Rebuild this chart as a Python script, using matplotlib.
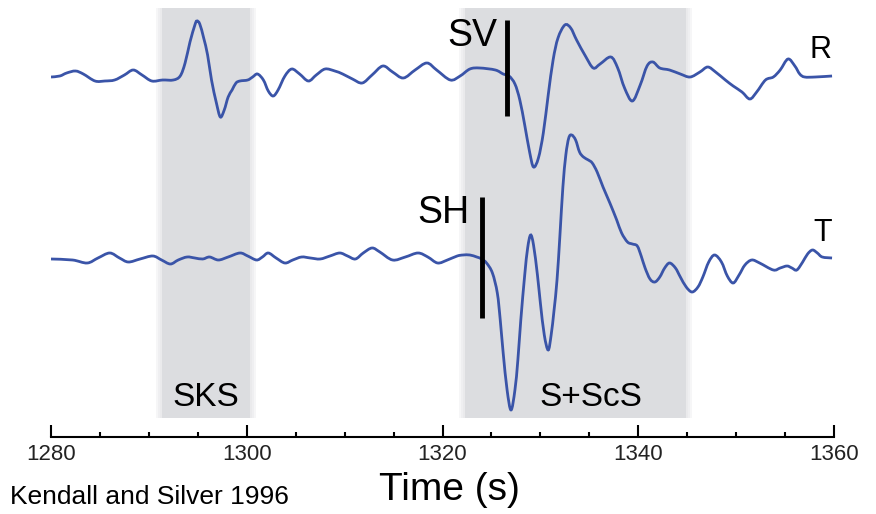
import matplotlib
matplotlib.use("Agg")
import matplotlib.pyplot as plt
from matplotlib.path import Path
from matplotlib.patches import PathPatch
from matplotlib.ticker import MultipleLocator

plt.rcParams['font.family'] = ['Liberation Sans', 'DejaVu Sans']

# radial (R) component: time (s), amplitude
r_time = [1280.0, 1280.9, 1281.6, 1282.5, 1283.3, 1284.5, 1285.5, 1286.5, 1287.5, 1288.4,
          1289.3, 1290.3, 1291.4, 1292.5, 1293.2, 1293.7, 1294.2, 1294.7, 1294.9, 1295.2,
          1295.6, 1296.0, 1296.4, 1296.9, 1297.3, 1297.7, 1298.1, 1298.5, 1298.9, 1299.3,
          1300.1, 1300.6, 1301.1, 1301.7, 1302.2, 1302.7, 1303.2, 1303.9, 1304.6, 1305.4,
          1306.3, 1307.1, 1308.0, 1309.0, 1309.8, 1310.8, 1311.8, 1312.8, 1313.9, 1314.9,
          1316.0, 1317.2, 1318.4, 1319.4, 1320.8, 1321.8, 1322.8, 1323.8, 1325.4, 1326.2,
          1326.8, 1327.4, 1327.9, 1328.4, 1328.9, 1329.3, 1329.8, 1330.3, 1330.8, 1331.3,
          1331.8, 1332.5, 1333.1, 1333.7, 1334.6, 1335.4, 1336.1, 1337.2, 1337.9, 1338.6,
          1339.4, 1340.2, 1340.9, 1341.5, 1342.2, 1343.2, 1344.3, 1345.3, 1346.3, 1347.1,
          1347.9, 1348.9, 1349.7, 1350.6, 1351.4, 1352.1, 1353.0, 1353.8, 1354.5, 1355.3,
          1356.0, 1356.5, 1357.0, 1358.1, 1359.8]
r_amp = [-0.1, 0.0, 0.3, 0.5, 0.2, -0.5, -0.5, -0.4, 0.1, 0.6,
         0.1, -0.5, -0.4, -0.4, 0.0, 1.3, 3.4, 5.1, 5.5, 5.2,
         3.8, 2.1, -0.4, -2.7, -4.1, -3.4, -2.1, -1.4, -0.7, -0.5,
         -0.4, -0.1, 0.2, -0.4, -1.5, -2.0, -1.4, 0.0, 0.7, 0.2,
         -0.5, 0.1, 0.7, 0.5, 0.2, -0.3, -0.7, 0.1, 1.0, 0.4,
         -0.2, 0.6, 1.3, 0.6, -0.4, 0.0, 0.7, 0.8, 0.6, 0.2,
         0.0, -0.8, -2.4, -4.9, -7.6, -9.1, -8.2, -5.7, -1.9, 1.6,
         3.8, 5.1, 4.8, 3.6, 2.0, 0.8, 1.2, 1.9, 0.8, -1.2,
         -2.5, -0.9, 1.0, 1.4, 0.8, 0.6, 0.2, -0.1, 0.4, 0.9,
         0.4, -0.4, -1.0, -1.6, -2.3, -1.6, -0.4, -0.1, 0.6, 1.7,
         1.0, 0.2, -0.1, -0.1, 0.0]

# transverse (T) component
t_time = [1280.0, 1282.2, 1283.7, 1284.8, 1286.0, 1287.0, 1287.9, 1289.1, 1290.4, 1291.3,
          1292.2, 1293.0, 1293.9, 1294.7, 1295.5, 1296.2, 1297.1, 1298.1, 1299.3, 1300.1,
          1301.0, 1301.6, 1302.2, 1303.0, 1303.9, 1304.7, 1305.6, 1306.5, 1307.5, 1308.5,
          1309.5, 1310.3, 1311.1, 1311.9, 1312.8, 1313.6, 1314.9, 1316.2, 1317.5, 1318.5,
          1319.5, 1320.5, 1321.5, 1322.1, 1322.8, 1323.5, 1324.0, 1324.5, 1325.1, 1325.6,
          1325.9, 1326.2, 1326.6, 1327.0, 1327.4, 1327.7, 1328.0, 1328.4, 1328.7, 1329.0,
          1329.3, 1329.7, 1330.0, 1330.4, 1330.8, 1331.1, 1331.4, 1331.7, 1332.0, 1332.3,
          1332.6, 1332.9, 1333.2, 1333.6, 1334.0, 1334.4, 1334.9, 1335.3, 1335.8, 1336.4,
          1337.1, 1337.8, 1338.3, 1338.9, 1339.4, 1339.9, 1340.3, 1340.7, 1341.2, 1341.7,
          1342.2, 1342.7, 1343.2, 1343.8, 1344.3, 1344.9, 1345.5, 1346.1, 1346.6, 1347.2,
          1347.8, 1348.5, 1349.1, 1349.7, 1350.3, 1350.9, 1351.6, 1352.4, 1353.8, 1354.5,
          1355.2, 1355.7, 1356.2, 1356.8, 1357.3, 1357.8, 1358.3, 1358.8, 1359.8]
t_amp = [0.0, -0.1, -0.4, 0.1, 0.6, 0.1, -0.3, 0.0, 0.3, -0.1,
         -0.5, -0.1, 0.2, 0.1, 0.0, 0.2, -0.1, 0.2, 0.6, 0.3,
         -0.1, 0.2, 0.6, 0.1, -0.4, -0.1, 0.2, 0.1, 0.0, 0.3,
         0.6, 0.3, 0.0, 0.6, 1.1, 0.7, -0.1, 0.2, 0.6, 0.2,
         -0.4, -0.1, 0.3, 0.4, 0.4, 0.2, 0.0, -0.4, -1.4, -3.4,
         -6.1, -9.4, -13.1, -15.1, -13.1, -10.1, -6.1, -1.6, 1.1, 2.4,
         1.4, -1.6, -4.4, -7.6, -9.1, -7.6, -5.1, -2.1, 2.4, 7.2,
         10.4, 12.1, 12.4, 11.9, 10.7, 10.2, 9.9, 9.6, 8.7, 7.2,
         5.6, 3.9, 2.6, 1.7, 1.5, 1.3, 0.3, -0.9, -2.0, -2.3,
         -1.8, -0.9, -0.4, -0.9, -1.8, -2.8, -3.3, -2.8, -1.8, -0.3,
         0.4, -0.3, -1.7, -2.4, -1.6, -0.6, -0.1, -0.4, -1.1, -0.9,
         -0.7, -0.9, -1.1, -0.3, 0.5, 0.9, 0.6, 0.2, 0.1]

t_offset = -18.3

# phase windows (s) and picks
sks_window = (1291.3, 1300.3)
s_window = (1322.3, 1344.9)
sv_pick = 1326.6
sh_pick = 1324.0

trace_color = '#3a54a8'
box_color = '#dcdde0'


def smooth_trace(ax, xs, ys, **kw):
    # Catmull-Rom segments drawn as cubic Bezier curves through every sample
    verts = [(xs[0], ys[0])]
    codes = [Path.MOVETO]
    n = len(xs)
    for i in range(n - 1):
        i0, i2 = max(i - 1, 0), min(i + 2, n - 1)
        c1 = (xs[i] + (xs[i + 1] - xs[i0]) / 6, ys[i] + (ys[i + 1] - ys[i0]) / 6)
        c2 = (xs[i + 1] - (xs[i2] - xs[i]) / 6, ys[i + 1] - (ys[i2] - ys[i]) / 6)
        verts += [c1, c2, (xs[i + 1], ys[i + 1])]
        codes += [Path.CURVE4] * 3
    ax.add_patch(PathPatch(Path(verts, codes), fill=False, **kw))


fig = plt.figure(figsize=(8.76, 5.14), dpi=100)
ax = fig.add_axes([51 / 876, 77 / 514, (834 - 51) / 876, 437 / 514])
ax.set_xlim(1280, 1360)
ax.set_ylim(-36.1, 7.6)

# shaded windows, side edges slightly feathered
for lo, hi in (sks_window, s_window):
    ax.axvspan(lo, hi, ymin=0.0435, ymax=0.982, color=box_color, lw=0, zorder=0)
    for k in range(1, 4):
        w = 0.2 * k
        ax.axvspan(lo - w, lo, ymin=0.0435, ymax=0.982, color=box_color, alpha=0.25, lw=0, zorder=0)
        ax.axvspan(hi, hi + w, ymin=0.0435, ymax=0.982, color=box_color, alpha=0.25, lw=0, zorder=0)

smooth_trace(ax, r_time, r_amp, edgecolor=trace_color, lw=2.0, zorder=2)
smooth_trace(ax, t_time, [a + t_offset for a in t_amp], edgecolor=trace_color, lw=2.0, zorder=2)

ax.plot([sv_pick, sv_pick], [5.6, -4.0], color='black', lw=3.5, solid_capstyle='butt', zorder=3)
ax.plot([sh_pick, sh_pick], [-12.1, -24.2], color='black', lw=3.5, solid_capstyle='butt', zorder=3)

ax.text(1325.6, 4.0, 'SV', fontsize=27, ha='right', va='center')
ax.text(1322.8, -13.7, 'SH', fontsize=27, ha='right', va='center')
ax.text(1358.6, 2.6, 'R', fontsize=22, ha='center', va='center')
ax.text(1358.8, -15.7, 'T', fontsize=22, ha='center', va='center')
ax.text(sum(sks_window) / 2, -32.2, 'SKS', fontsize=24, ha='center', va='center')
ax.text(1335.2, -32.2, 'S+ScS', fontsize=24, ha='center', va='center')

for side in ('top', 'left', 'right'):
    ax.spines[side].set_visible(False)
ax.spines['bottom'].set_linewidth(1.5)
ax.set_yticks([])
ax.xaxis.set_major_locator(MultipleLocator(20))
ax.xaxis.set_minor_locator(MultipleLocator(5))
ax.tick_params(axis='x', which='major', direction='in', length=8.6, width=1.5,
               labelsize=16, pad=5, labelcolor='#222222')
ax.tick_params(axis='x', which='minor', direction='in', length=3.6, width=1.5)

fig.text(449 / 876, 1 - 490 / 514, 'Time (s)', fontsize=28, ha='center', va='center')
fig.text(10 / 876, 1 - 497 / 514, 'Kendall and Silver 1996', fontsize=19, ha='left', va='center')

fig.savefig('out.png', dpi=100)
